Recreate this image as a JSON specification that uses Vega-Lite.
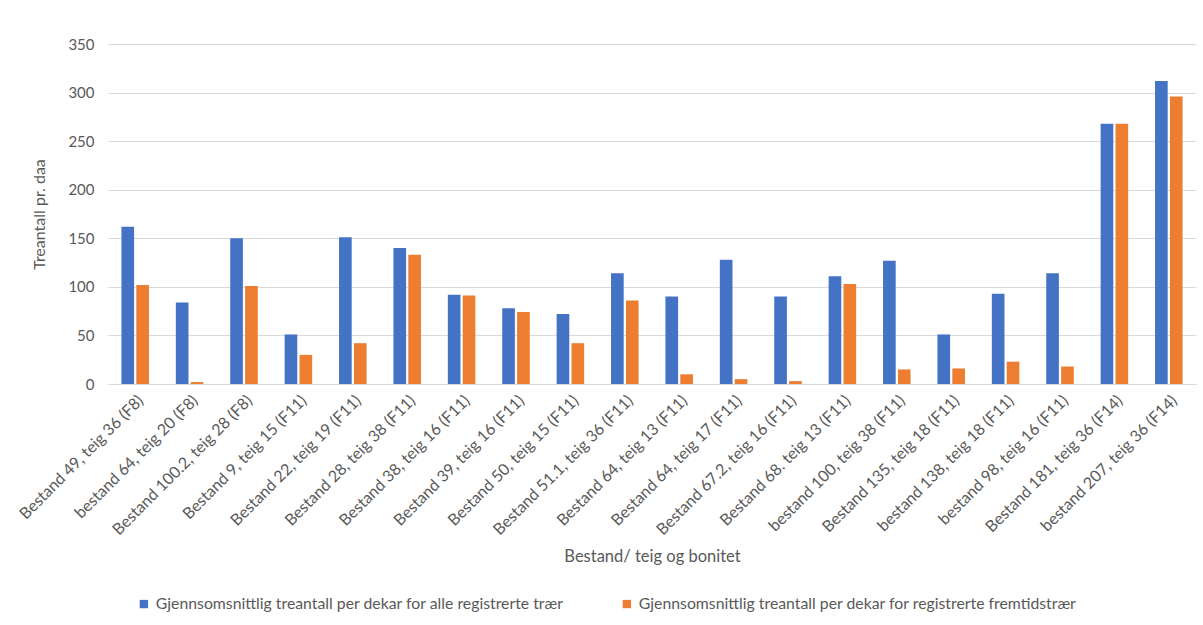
{
  "$schema": "https://vega.github.io/schema/vega-lite/v6.json",
  "width": 1088,
  "height": 340,
  "autosize": {"type": "none"},
  "padding": {"left": 108, "top": 44, "right": 7, "bottom": 241},
  "background": "white",
  "config": {
    "font": "Lato",
    "view": {"stroke": null},
    "axis": {"labelColor": "#595959", "titleColor": "#595959", "titleFontWeight": "normal"}
  },
  "data": {
    "values": [
      {"bestand": "Bestand 49, teig 36 (F8)", "serie": "Gjennsomsnittlig treantall per dekar for alle registrerte trær", "verdi": 162},
      {"bestand": "Bestand 49, teig 36 (F8)", "serie": "Gjennsomsnittlig treantall per dekar for registrerte fremtidstrær", "verdi": 102},
      {"bestand": "bestand 64, teig 20 (F8)", "serie": "Gjennsomsnittlig treantall per dekar for alle registrerte trær", "verdi": 84},
      {"bestand": "bestand 64, teig 20 (F8)", "serie": "Gjennsomsnittlig treantall per dekar for registrerte fremtidstrær", "verdi": 2},
      {"bestand": "Bestand 100.2, teig 28 (F8)", "serie": "Gjennsomsnittlig treantall per dekar for alle registrerte trær", "verdi": 150},
      {"bestand": "Bestand 100.2, teig 28 (F8)", "serie": "Gjennsomsnittlig treantall per dekar for registrerte fremtidstrær", "verdi": 101},
      {"bestand": "Bestand 9, teig 15 (F11)", "serie": "Gjennsomsnittlig treantall per dekar for alle registrerte trær", "verdi": 51},
      {"bestand": "Bestand 9, teig 15 (F11)", "serie": "Gjennsomsnittlig treantall per dekar for registrerte fremtidstrær", "verdi": 30},
      {"bestand": "Bestand 22, teig 19 (F11)", "serie": "Gjennsomsnittlig treantall per dekar for alle registrerte trær", "verdi": 151},
      {"bestand": "Bestand 22, teig 19 (F11)", "serie": "Gjennsomsnittlig treantall per dekar for registrerte fremtidstrær", "verdi": 42},
      {"bestand": "Bestand 28, teig 38 (F11)", "serie": "Gjennsomsnittlig treantall per dekar for alle registrerte trær", "verdi": 140},
      {"bestand": "Bestand 28, teig 38 (F11)", "serie": "Gjennsomsnittlig treantall per dekar for registrerte fremtidstrær", "verdi": 133},
      {"bestand": "Bestand 38, teig 16 (F11)", "serie": "Gjennsomsnittlig treantall per dekar for alle registrerte trær", "verdi": 92},
      {"bestand": "Bestand 38, teig 16 (F11)", "serie": "Gjennsomsnittlig treantall per dekar for registrerte fremtidstrær", "verdi": 91},
      {"bestand": "Bestand 39, teig 16 (F11)", "serie": "Gjennsomsnittlig treantall per dekar for alle registrerte trær", "verdi": 78},
      {"bestand": "Bestand 39, teig 16 (F11)", "serie": "Gjennsomsnittlig treantall per dekar for registrerte fremtidstrær", "verdi": 74},
      {"bestand": "Bestand 50, teig 15 (F11)", "serie": "Gjennsomsnittlig treantall per dekar for alle registrerte trær", "verdi": 72},
      {"bestand": "Bestand 50, teig 15 (F11)", "serie": "Gjennsomsnittlig treantall per dekar for registrerte fremtidstrær", "verdi": 42},
      {"bestand": "Bestand 51.1, teig 36 (F11)", "serie": "Gjennsomsnittlig treantall per dekar for alle registrerte trær", "verdi": 114},
      {"bestand": "Bestand 51.1, teig 36 (F11)", "serie": "Gjennsomsnittlig treantall per dekar for registrerte fremtidstrær", "verdi": 86},
      {"bestand": "Bestand 64, teig 13 (F11)", "serie": "Gjennsomsnittlig treantall per dekar for alle registrerte trær", "verdi": 90},
      {"bestand": "Bestand 64, teig 13 (F11)", "serie": "Gjennsomsnittlig treantall per dekar for registrerte fremtidstrær", "verdi": 10},
      {"bestand": "Bestand 64, teig 17 (F11)", "serie": "Gjennsomsnittlig treantall per dekar for alle registrerte trær", "verdi": 128},
      {"bestand": "Bestand 64, teig 17 (F11)", "serie": "Gjennsomsnittlig treantall per dekar for registrerte fremtidstrær", "verdi": 5},
      {"bestand": "Bestand 67.2, teig 16 (F11)", "serie": "Gjennsomsnittlig treantall per dekar for alle registrerte trær", "verdi": 90},
      {"bestand": "Bestand 67.2, teig 16 (F11)", "serie": "Gjennsomsnittlig treantall per dekar for registrerte fremtidstrær", "verdi": 3},
      {"bestand": "Bestand 68. teig 13 (F11)", "serie": "Gjennsomsnittlig treantall per dekar for alle registrerte trær", "verdi": 111},
      {"bestand": "Bestand 68. teig 13 (F11)", "serie": "Gjennsomsnittlig treantall per dekar for registrerte fremtidstrær", "verdi": 103},
      {"bestand": "bestand 100, teig 38 (F11)", "serie": "Gjennsomsnittlig treantall per dekar for alle registrerte trær", "verdi": 127},
      {"bestand": "bestand 100, teig 38 (F11)", "serie": "Gjennsomsnittlig treantall per dekar for registrerte fremtidstrær", "verdi": 15},
      {"bestand": "Bestand 135, teig 18 (F11)", "serie": "Gjennsomsnittlig treantall per dekar for alle registrerte trær", "verdi": 51},
      {"bestand": "Bestand 135, teig 18 (F11)", "serie": "Gjennsomsnittlig treantall per dekar for registrerte fremtidstrær", "verdi": 16},
      {"bestand": "bestand 138, teig 18 (F11)", "serie": "Gjennsomsnittlig treantall per dekar for alle registrerte trær", "verdi": 93},
      {"bestand": "bestand 138, teig 18 (F11)", "serie": "Gjennsomsnittlig treantall per dekar for registrerte fremtidstrær", "verdi": 23},
      {"bestand": "bestand 98, teig 16 (F11)", "serie": "Gjennsomsnittlig treantall per dekar for alle registrerte trær", "verdi": 114},
      {"bestand": "bestand 98, teig 16 (F11)", "serie": "Gjennsomsnittlig treantall per dekar for registrerte fremtidstrær", "verdi": 18},
      {"bestand": "Bestand 181, teig 36 (F14)", "serie": "Gjennsomsnittlig treantall per dekar for alle registrerte trær", "verdi": 268},
      {"bestand": "Bestand 181, teig 36 (F14)", "serie": "Gjennsomsnittlig treantall per dekar for registrerte fremtidstrær", "verdi": 268},
      {"bestand": "bestand 207, teig 36 (F14)", "serie": "Gjennsomsnittlig treantall per dekar for alle registrerte trær", "verdi": 312},
      {"bestand": "bestand 207, teig 36 (F14)", "serie": "Gjennsomsnittlig treantall per dekar for registrerte fremtidstrær", "verdi": 296}
    ]
  },
  "mark": {"type": "bar"},
  "encoding": {
    "x": {
      "field": "bestand",
      "type": "nominal",
      "sort": null,
      "scale": {"paddingInner": 0.494, "paddingOuter": 0.247},
      "axis": {
        "title": "Bestand/ teig og bonitet",
        "titleFontSize": 16.5,
        "titleY": 164,
        "labelAngle": -45,
        "labelFontSize": 16,
        "labelLimit": 300,
        "labelPadding": 8,
        "ticks": false,
        "domainColor": "#d9d9d9",
        "domainWidth": 1
      }
    },
    "xOffset": {"field": "serie", "sort": null, "scale": {"paddingInner": 0.15}},
    "y": {
      "field": "verdi",
      "type": "quantitative",
      "scale": {"domain": [0, 350]},
      "axis": {
        "title": "Treantall pr. daa",
        "titleFontSize": 16,
        "titlePadding": 20,
        "values": [0, 50, 100, 150, 200, 250, 300, 350],
        "labelFontSize": 15,
        "labelPadding": 14,
        "ticks": false,
        "domain": false,
        "gridColor": "#d9d9d9",
        "gridWidth": 1
      }
    },
    "color": {
      "field": "serie",
      "type": "nominal",
      "sort": null,
      "scale": {"range": ["#4472C4", "#ED7D31"]},
      "legend": {
        "title": null,
        "orient": "none",
        "legendX": 28,
        "legendY": 552,
        "direction": "horizontal",
        "columns": 2,
        "columnPadding": 55,
        "symbolType": "square",
        "symbolSize": 70,
        "symbolStrokeWidth": 0,
        "labelFontSize": 15.8,
        "labelColor": "#595959",
        "labelLimit": 600,
        "labelOffset": 4
      }
    }
  }
}
